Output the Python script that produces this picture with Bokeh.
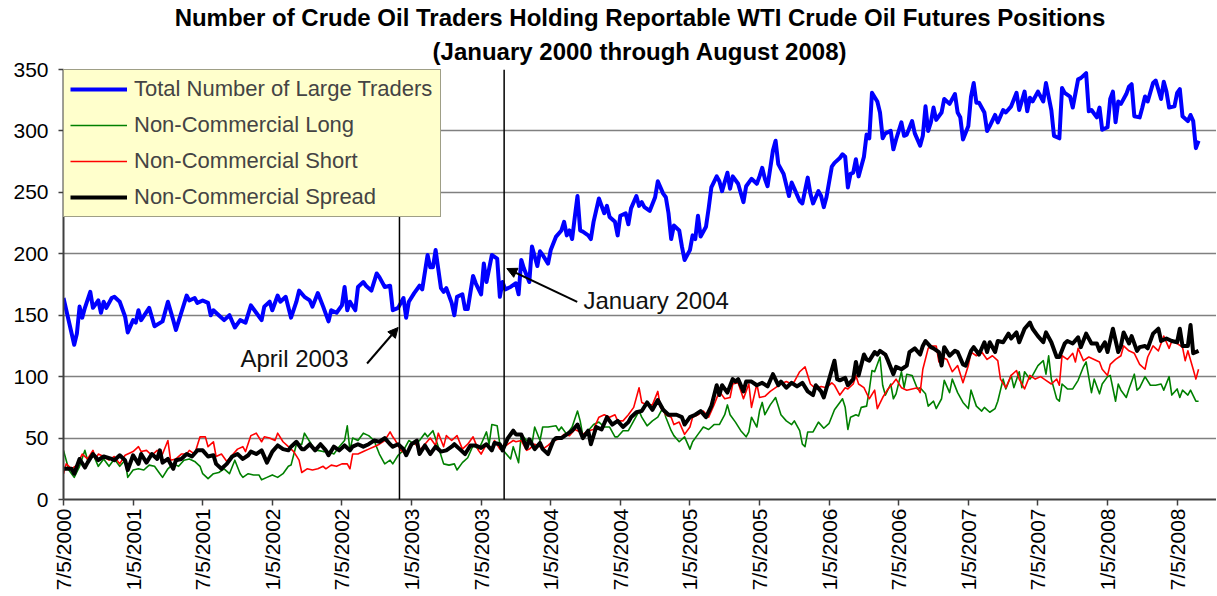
import math
from bokeh.plotting import figure
from bokeh.models import (Range1d, FixedTicker, Title, Arrow, NormalHead, Label)
from bokeh.embed import file_html
from bokeh.resources import INLINE

# ---------------- data (week index from first report, value) ----------------
tick_weeks = [0, 26, 52, 78, 104, 130, 156, 182, 208, 234, 260, 286, 312, 338, 364, 390, 416]
tick_labels = ["7/5/2000", "1/5/2001", "7/5/2001", "1/5/2002", "7/5/2002", "1/5/2003",
               "7/5/2003", "1/5/2004", "7/5/2004", "1/5/2005", "7/5/2005", "1/5/2006",
               "7/5/2006", "1/5/2007", "7/5/2007", "1/5/2008", "7/5/2008"]

total_traders = [
    (0,164),(4,126),(5,135),(6,157),(7,148),(8,156),(10,169),(11,156),(13,162),(14,152),(15,161),
    (16,156),(18,164),(19,165),(21,161),(23,149),(24,136),(26,146),(27,144),(28,154),(29,146),
    (32,156),(34,141),(37,145),(39,161),(41,146),(42,138),(44,152),(46,166),(47,162),(49,164),
    (50,160),(52,162),(54,160),(55,150),(56,154),(58,150),(60,146),(62,150),(64,140),(66,146),
    (68,144),(70,158),(72,152),(74,146),(75,157),(77,161),(78,154),(80,166),(81,161),(83,165),
    (85,148),(87,161),(88,170),(90,165),(92,162),(93,157),(95,168),(97,157),(99,145),(100,154),
    (102,152),(104,158),(105,173),(106,154),(107,161),(109,154),(110,173),(112,177),(113,174),
    (115,170),(117,184),(118,181),(120,173),(122,174),(123,154),(125,156),(127,164),(128,148),
    (129,161),(131,168),(133,174),(134,171),(136,199),(137,189),(138,189),(139,203),(141,172),
    (142,169),(143,172),(145,160),(146,150),(147,165),(149,167),(150,155),(151,155),(153,182),
    (154,176),(156,167),(157,192),(158,177),(160,199),(162,196),(163,165),(164,177),(165,171),
    (167,173),(169,176),(170,167),(171,195),(172,188),(174,177),(175,206),(177,190),(178,202),
    (179,199),(181,192),(182,203),(184,214),(186,219),(187,226),(188,215),(189,219),(190,212),
    (191,230),(192,247),(193,219),(194,218),(196,215),(197,212),(198,226),(200,245),(202,233),
    (203,239),(204,230),(206,226),(207,215),(208,231),(210,233),(211,224),(212,237),(214,247),
    (215,239),(216,242),(217,238),(219,235),(221,246),(222,259),(224,249),(225,246),(226,233),
    (227,212),(228,223),(230,219),(231,206),(232,195),(234,203),(235,215),(236,212),(237,231),
    (238,214),(240,222),(241,237),(242,254),(244,263),(245,259),(246,251),(248,266),(249,253),
    (250,263),(252,257),(254,242),(255,255),(257,261),(259,257),(260,263),(261,270),(262,261),
    (263,255),(265,284),(266,292),(267,273),(269,265),(271,247),(272,258),(273,253),(275,243),
    (276,241),(278,262),(279,249),(280,241),(282,251),(283,247),(284,238),(285,246),(287,271),
    (288,274),(290,278),(291,281),(292,279),(293,254),(294,265),(295,266),(296,277),(297,263),
    (299,279),(300,297),(301,294),(302,331),(304,324),(305,315),(306,294),(307,298),(309,300),
    (310,285),(311,293),(313,307),(314,296),(315,297),(317,308),(318,298),(320,288),(321,296),
    (322,320),(323,300),(324,307),(325,319),(326,309),(328,315),(329,326),(331,322),(333,330),
    (334,315),(335,311),(336,293),(338,304),(339,328),(340,339),(341,323),(342,323),(344,315),
    (345,300),(346,304),(348,313),(349,307),(351,317),(352,315),(354,320),(356,331),(357,317),
    (359,332),(360,316),(361,327),(362,324),(364,332),(366,324),(367,339),(369,317),(370,296),
    (372,294),(373,335),(374,331),(376,328),(377,319),(379,342),(380,343),(382,347),(383,316),
    (384,317),(386,311),(387,319),(388,301),(390,303),(391,326),(392,332),(393,307),(394,324),
    (395,322),(397,330),(398,336),(399,338),(400,312),(402,311),(403,319),(404,328),(405,324),
    (407,339),(408,341),(410,326),(411,340),(412,332),(413,319),(415,320),(416,331),(417,334),
    (418,312),(420,308),(421,313),(422,308),(423,286),(424,292)]

noncomm_long = [
    (0,40),(2,24),(4,18),(6,27),(8,40),(9,32),(11,37),(13,27),(15,33),(17,27),(19,33),(21,27),
    (23,32),(24,18),(26,24),(28,25),(30,24),(32,28),(34,27),(36,21),(37,18),(39,25),(41,29),
    (43,27),(45,32),(47,33),(49,31),(51,27),(52,21),(54,17),(56,21),(58,22),(60,25),(62,21),
    (64,32),(66,21),(67,18),(69,21),(71,20),(73,20),(74,16),(76,18),(78,20),(80,18),(82,21),
    (84,27),(85,28),(87,45),(89,45),(90,54),(92,47),(94,40),(95,40),(97,39),(99,39),(101,37),
    (103,43),(105,48),(106,60),(107,40),(108,50),(110,48),(112,54),(114,52),(116,48),(118,37),
    (120,29),(122,32),(123,29),(125,36),(127,40),(129,48),(131,45),(133,48),(135,54),(136,51),
    (138,56),(140,43),(142,29),(144,28),(146,29),(147,24),(149,30),(151,34),(153,44),(155,41),
    (156,45),(158,55),(159,45),(160,61),(162,60),(163,45),(165,38),(167,33),(168,43),(170,30),
    (171,53),(173,48),(175,45),(176,59),(178,48),(179,59),(181,59),(184,60),(185,56),(186,59),
    (188,53),(190,59),(192,72),(193,64),(194,52),(196,56),(198,61),(200,63),(202,59),(204,59),
    (206,51),(207,51),(209,56),(211,56),(213,64),(215,72),(216,67),(218,60),(220,64),(222,67),
    (224,75),(225,67),(227,56),(228,52),(230,47),(232,51),(234,41),(235,47),(237,53),(239,59),
    (241,57),(243,61),(245,61),(247,69),(248,77),(249,69),(251,63),(253,56),(255,51),(256,55),
    (257,67),(259,59),(260,72),(261,79),(262,69),(264,77),(266,83),(268,69),(270,64),(272,61),
    (273,64),(275,56),(276,45),(277,43),(278,55),(280,55),(282,63),(284,58),(286,62),(288,73),
    (290,79),(291,82),(292,75),(293,57),(294,67),(296,69),(297,68),(298,75),(300,76),(301,89),
    (302,105),(303,104),(305,116),(306,93),(307,85),(309,94),(310,82),(311,86),(313,104),
    (314,91),(315,102),(317,101),(319,90),(320,91),(322,86),(323,76),(325,80),(326,74),(328,82),
    (329,97),(331,87),(332,98),(334,87),(336,79),(338,74),(339,89),(341,76),(343,72),(344,75),
    (346,71),(348,74),(349,80),(351,98),(352,90),(354,101),(355,91),(357,104),(358,91),
    (359,104),(361,98),(362,101),(364,109),(366,113),(367,102),(368,117),(369,98),(371,82),
    (372,80),(373,94),(375,90),(377,90),(379,97),(381,108),(382,112),(384,87),(385,98),(387,86),
    (388,94),(390,100),(391,101),(393,80),(394,94),(395,89),(397,83),(398,90),(400,102),
    (401,89),(402,91),(404,100),(406,93),(408,93),(410,94),(411,89),(413,100),(414,85),(416,90),
    (417,83),(418,89),(420,85),(421,89),(423,80),(424,80)]

noncomm_short = [
    (0,21),(1,29),(3,25),(5,28),(7,37),(9,33),(11,40),(12,33),(13,37),(15,35),(17,32),(19,35),
    (21,29),(23,36),(24,37),(26,39),(28,43),(29,39),(31,40),(33,36),(35,40),(37,37),(39,48),
    (40,32),(42,33),(44,37),(46,37),(47,40),(49,37),(51,51),(53,51),(54,43),(56,47),(57,35),
    (59,37),(61,31),(63,36),(65,41),(67,43),(68,39),(70,52),(72,54),(74,47),(75,51),(77,50),
    (79,48),(80,54),(82,47),(84,43),(86,39),(88,32),(89,22),(91,25),(93,24),(95,25),(97,27),
    (98,25),(100,28),(102,27),(104,29),(106,29),(107,25),(108,37),(110,37),(112,39),(114,41),
    (116,43),(118,45),(120,48),(122,55),(123,51),(124,48),(126,40),(128,37),(130,44),(131,47),
    (133,40),(135,45),(137,50),(139,44),(140,54),(142,43),(143,52),(145,48),(147,52),(149,41),
    (151,45),(153,51),(155,40),(156,37),(158,45),(160,41),(161,48),(163,41),(166,45),(168,48),
    (169,47),(171,48),(173,40),(174,41),(176,45),(178,43),(179,41),(181,44),(183,48),(185,49),
    (187,53),(189,52),(191,57),(193,55),(194,53),(196,56),(198,57),(200,67),(202,69),(204,67),
    (206,69),(207,64),(209,64),(211,69),(213,75),(215,91),(216,79),(218,77),(220,77),(222,88),
    (223,75),(225,69),(227,67),(228,61),(230,63),(232,53),(234,59),(235,67),(237,69),(239,72),
    (241,67),(243,77),(245,88),(247,82),(249,83),(250,94),(252,95),(254,82),(256,94),(257,75),
    (259,94),(260,83),(262,84),(264,88),(266,91),(268,94),(270,96),(272,94),(273,96),(275,104),
    (277,108),(279,94),(281,90),(283,92),(285,91),(287,95),(288,93),(290,85),(292,91),(293,90),
    (295,94),(296,101),(297,94),(299,91),(301,82),(303,89),(304,74),(306,83),(308,90),(310,95),
    (311,98),(313,91),(315,89),(317,90),(319,91),(320,87),(321,106),(323,123),(324,125),
    (326,125),(327,112),(328,116),(330,114),(332,104),(334,109),(336,95),(338,109),(339,120),
    (341,117),(343,120),(345,114),(347,117),(349,113),(350,98),(352,91),(354,101),(356,105),
    (357,98),(359,90),(361,101),(363,98),(365,100),(367,97),(369,94),(371,98),(372,93),
    (373,117),(375,114),(377,119),(378,112),(379,123),(381,113),(383,116),(385,114),(387,112),
    (388,106),(390,101),(391,110),(393,114),(395,117),(396,125),(398,121),(400,119),(402,110),
    (404,106),(405,116),(407,125),(409,121),(411,133),(413,123),(414,129),(416,127),(418,124),
    (419,113),(420,121),(422,106),(423,98),(424,106)]

noncomm_spread = [
    (0,25),(3,25),(4,21),(6,33),(8,26),(9,30),(11,37),(13,32),(15,35),(18,33),(19,32),(21,36),
    (23,32),(24,24),(26,36),(28,29),(29,37),(31,30),(33,37),(35,33),(36,40),(37,30),(39,33),
    (41,25),(42,32),(44,33),(46,37),(48,35),(50,40),(52,40),(54,35),(56,36),(57,29),(59,25),
    (61,29),(63,35),(65,37),(67,33),(69,36),(70,39),(72,37),(74,40),(76,30),(78,39),(80,44),
    (82,41),(84,40),(85,43),(87,47),(89,41),(90,41),(92,45),(94,40),(96,45),(98,40),(99,36),
    (101,43),(103,40),(105,44),(107,40),(108,43),(110,45),(112,43),(114,45),(116,48),(118,47),
    (120,50),(122,45),(123,43),(125,45),(127,41),(128,36),(130,45),(132,48),(133,37),(135,44),
    (137,37),(139,43),(141,39),(143,40),(145,43),(146,45),(148,41),(150,37),(152,44),(154,44),
    (156,42),(158,45),(160,40),(161,46),(163,45),(164,40),(166,50),(168,56),(169,53),(171,53),
    (173,42),(174,49),(176,41),(178,46),(179,41),(181,37),(183,48),(184,50),(186,50),(188,53),
    (190,56),(192,61),(194,50),(196,56),(197,45),(199,59),(201,57),(203,67),(205,61),(207,64),
    (209,59),(211,63),(212,67),(214,71),(216,72),(218,79),(220,73),(222,81),(224,73),(226,69),
    (227,69),(229,69),(231,67),(232,61),(234,67),(236,69),(238,72),(240,67),(242,76),(244,93),
    (245,85),(246,93),(248,87),(250,98),(251,96),(252,98),(254,88),(255,96),(257,96),(259,93),
    (261,95),(263,92),(265,102),(267,93),(268,96),(270,91),(272,95),(274,92),(276,95),(278,88),
    (280,85),(281,93),(283,88),(284,83),(286,98),(288,113),(289,98),(290,97),(292,99),(293,93),
    (295,98),(296,112),(297,101),(299,118),(300,114),(301,113),(303,120),(304,118),(305,121),
    (307,118),(308,113),(310,102),(311,108),(313,106),(315,109),(316,120),(318,123),(320,118),
    (321,125),(322,129),(324,124),(325,123),(327,120),(328,109),(329,124),(331,117),(333,121),
    (334,120),(336,110),(337,109),(339,121),(340,124),(342,118),(344,128),(345,120),(346,128),
    (348,120),(349,129),(351,128),(353,135),(354,131),(356,136),(357,128),(359,139),(361,144),
    (362,139),(364,133),(366,128),(367,136),(369,128),(371,116),(372,116),(374,127),(375,129),
    (377,127),(379,132),(380,124),(382,135),(384,127),(386,127),(387,121),(389,128),(390,120),
    (392,139),(394,120),(395,125),(396,136),(398,127),(399,133),(401,121),(402,124),(404,125),
    (405,123),(407,135),(409,139),(410,129),(412,131),(414,129),(416,128),(417,139),(418,125),
    (420,125),(421,142),(422,119),(424,121)]

series_names = ["Total Number of Large Traders", "Non-Commercial Long",
                "Non-Commercial Short", "Non-Commercial Spread"]
event_labels = ["April 2003", "January 2004"]
event_weeks = [125.5, 164.6]

# ---------------- figure ----------------
FONT = "Liberation Sans"

p = figure(frame_width=1153, frame_height=430, output_backend="svg", toolbar_location=None,
           x_range=Range1d(0, 430.7), y_range=Range1d(0, 350),
           min_border_left=63, min_border_right=0, min_border_bottom=96, min_border_top=69)
p.outline_line_color = None
p.background_fill_color = "white"
p.border_fill_color = "white"

# titles (later added = farther from the plot)
t2 = Title(text="(January 2000 through August 2008)", align="center", text_color="black",
           text_font=FONT, text_font_size="24px", text_font_style="bold", standoff=10)
t1 = Title(text="Number of Crude Oil Traders Holding Reportable WTI Crude Oil Futures Positions",
           align="center", text_color="black", text_font=FONT, text_font_size="24px",
           text_font_style="bold", standoff=0)
p.add_layout(t2, "above")
p.add_layout(t1, "above")

# axes
for ax in (p.xaxis, p.yaxis):
    ax.axis_line_color = "#404040"
    ax.axis_line_width = 2
    ax.major_tick_line_color = "#404040"
    ax.major_tick_line_width = 1.5
    ax.major_tick_in = 0
    ax.minor_tick_line_color = None
    ax.major_label_text_font = FONT
    ax.major_label_text_color = "black"
    ax.major_label_text_font_size = "21px"

p.yaxis.ticker = FixedTicker(ticks=[0, 50, 100, 150, 200, 250, 300, 350])
p.yaxis.major_tick_out = 5
p.yaxis.major_label_standoff = 10

p.xaxis.ticker = FixedTicker(ticks=tick_weeks)
p.xaxis.major_label_overrides = {w: lab for w, lab in zip(tick_weeks, tick_labels)}
p.xaxis.major_label_orientation = math.pi / 2
p.xaxis.major_tick_out = 6
p.xaxis.major_label_standoff = 3

p.xgrid.grid_line_color = None
p.ygrid.grid_line_color = "#808080"
p.ygrid.grid_line_width = 1.5

# series
styles = [("#0000FF", 4), ("#008000", 1.6), ("#FF0000", 1.6), ("#000000", 4)]
for data, name, (col, lw) in zip([total_traders, noncomm_long, noncomm_short, noncomm_spread],
                                 series_names, styles):
    xs = [d[0] for d in data]
    ys = [d[1] for d in data]
    p.line(xs, ys, line_color=col, line_width=lw, legend_label=name, line_join="round")

lg = p.legend[0]
lg.location = "top_left"
lg.margin = 0
lg.padding = 6
lg.spacing = 10
lg.label_height = 22
lg.glyph_height = 22
lg.glyph_width = 57
lg.label_standoff = 7
lg.label_width = 300
lg.label_text_font = FONT
lg.label_text_font_size = "22px"
lg.background_fill_color = "#FFFFCC"
lg.background_fill_alpha = 1
lg.border_line_color = "#404040"
lg.border_line_width = 1

# event lines
for w in event_weeks:
    p.add_layout(Arrow(end=None, x_start=w, y_start=350, x_end=w, y_end=-11,
                       line_color="black", line_width=1.5, level="overlay"))

# annotation arrows and texts
p.add_layout(Arrow(end=NormalHead(size=10, fill_color="black", line_color="black"),
                   x_start=113.4, y_start=110.7, x_end=125.0, y_end=140.0,
                   line_color="black", line_width=2, level="overlay"))
p.add_layout(Arrow(end=NormalHead(size=10, fill_color="black", line_color="black"),
                   x_start=191.9, y_start=160.8, x_end=165.6, y_end=188.0,
                   line_color="black", line_width=2, level="overlay"))
p.add_layout(Label(x=66.1, y=114.8, text=event_labels[0], text_font=FONT,
                   text_font_size="24px", text_baseline="alphabetic", text_color="#111111"))
p.add_layout(Label(x=194.2, y=162.2, text=event_labels[1], text_font=FONT,
                   text_font_size="24px", text_baseline="alphabetic", text_color="#111111"))

open("out.html", "w").write(file_html(p, INLINE))
